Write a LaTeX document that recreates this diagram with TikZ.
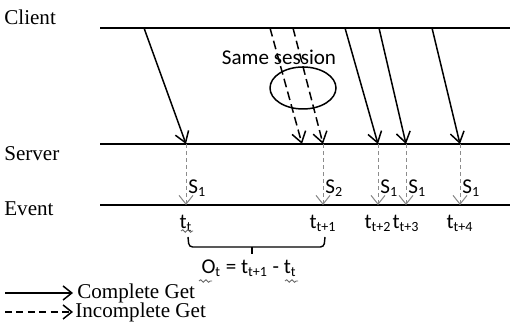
\documentclass[tikz,border=0pt]{standalone}
\usepackage{fontspec}
\setmainfont{Liberation Serif}
\newfontfamily\calibfont{Carlito}
\usetikzlibrary{arrows.meta,shapes.geometric,decorations.pathmorphing}

\begin{document}
\begin{tikzpicture}[x=0.02cm,y=-0.02cm,
  lane/.style={line width=1.1pt},
  get/.style={line width=0.85pt,-{Straight Barb[length=6pt,width=8pt,line width=0.85pt]}},
  noget/.style={get,dash pattern=on 5pt off 2.5pt},
  evt/.style={black!45,line width=0.5pt,dash pattern=on 2pt off 2pt,-{Straight Barb[length=5pt,width=8pt,line width=0.6pt]}},
  lbl/.style={font=\fontsize{12}{14}\selectfont,anchor=west,inner sep=0pt},
  tlbl/.style={font=\calibfont\fontsize{12}{14}\selectfont,inner sep=0pt},
  squig/.style={black!60,line width=0.5pt,decorate,decoration={snake,amplitude=0.7pt,segment length=3pt}}]
  \useasboundingbox (0,0) rectangle (510,333);
  % lanes
  \node[lbl] (client) at (4,17) {Client}; \node[lbl] (server) at (4,154) {Server}; \node[lbl] (event) at (4,209) {Event};
  \coordinate (cl0) at (100,28); \coordinate (cl1) at (510,28);
  \coordinate (sv0) at (100,144); \coordinate (sv1) at (510,144);
  \coordinate (ev0) at (100,205); \coordinate (ev1) at (510,205);
  \draw[lane] (cl0) -- (cl1); \draw[lane] (sv0) -- (sv1); \draw[lane] (ev0) -- (ev1);
  % gets from client to server
  \foreach \i/\a/\b in {1/144/186, 2/270/302, 3/293/323, 4/345/378, 5/379/406, 6/432/460} {
    \coordinate (c\i) at (\a,28); \coordinate (s\i) at (\b,144);
  }
  \draw[get] (c1) -- (s1); \draw[noget] (c2) -- (s2); \draw[noget] (c3) -- (s3);
  \draw[get] (c4) -- (s4); \draw[get] (c5) -- (s5); \draw[get] (c6) -- (s6);
  \node[draw,ellipse,line width=0.85pt,minimum width=1.32cm,minimum height=0.84cm] (sess) at (303,88) {};
  \node[tlbl] (samelbl) at (279,57) {Same session};
  % events
  \foreach \i/\b/\s/\n in {1/186/1/t, 3/323/2/t+1, 4/378/1/t+2, 5/406/1/t+3, 6/460/1/t+4} {
    \coordinate (e\i) at (\b,205);
    \draw[evt] (s\i) -- (e\i);
    \node[tlbl,anchor=west] (lab\i) at (\b+2,188) {S\textsubscript{\s}};
    \node[tlbl] (tt\i) at (\b,223) {t\textsubscript{\n}};
  }
  \draw[squig] (181,231) -- (193,231);
  % interval
  \draw[line width=0.8pt,rounded corners=2pt] (188,237) -- (189,247) -- (324,247) -- (325,237);
  \draw[line width=0.8pt] (252,247) -- (252,254);
  \node[tlbl] (gap) at (249,268) {O\textsubscript{t} = t\textsubscript{t+1} - t\textsubscript{t}};
  \draw[squig] (199,281) -- (212,281); \draw[squig] (285,281) -- (298,281);
  % legend
  \coordinate (la) at (5,293); \coordinate (lb) at (73,293);
  \coordinate (lc) at (5,312); \coordinate (ld) at (73,312);
  \draw[get,-{Straight Barb[length=5pt,width=8pt,line width=0.85pt]}] (la) -- (lb);
  \draw[noget,dash pattern=on 4pt off 2.5pt,-{Straight Barb[length=5pt,width=8pt,line width=0.85pt]}] (lc) -- (ld);
  \node[lbl] (cget) at (77,293) {Complete Get}; \node[lbl] (iget) at (75,312) {Incomplete Get};
\end{tikzpicture}
\end{document}
